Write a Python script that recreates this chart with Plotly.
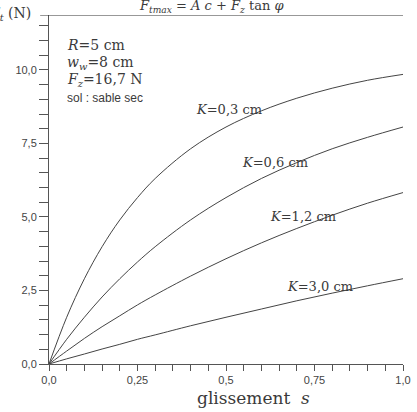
import plotly.graph_objects as go

# Data
slip = [0, 0.05, 0.1, 0.15, 0.2, 0.25, 0.3, 0.4, 0.5, 0.6, 0.7, 0.8, 0.9, 1.0]
f_k03 = [0, 1.59, 2.90, 3.99, 4.90, 5.66, 6.31, 7.32, 8.06, 8.61, 9.04, 9.38, 9.65, 9.85]
f_k06 = [0, 0.84, 1.59, 2.28, 2.90, 3.47, 3.99, 4.90, 5.66, 6.31, 6.85, 7.32, 7.71, 8.06]
f_k12 = [0, 0.44, 0.87, 1.27, 1.64, 2.01, 2.35, 2.99, 3.58, 4.12, 4.61, 5.06, 5.47, 5.83]
f_k30 = [0, 0.175, 0.34, 0.51, 0.67, 0.84, 0.99, 1.30, 1.59, 1.87, 2.15, 2.41, 2.66, 2.90]
f_tmax = 11.87

x_ticks = [0, 0.25, 0.5, 0.75, 1.0]
x_ticklabels = ["0,0", "0,25", "0,5", "0,75", "1,0"]
y_ticks = [0, 2.5, 5, 7.5, 10]
y_ticklabels = ["0,0", "2,5", "5,0", "7,5", "10,0"]

curves = [
    (f_k03, "<i>K</i>=0,3 cm", 0.508, 8.64),
    (f_k06, "<i>K</i>=0,6 cm", 0.638, 6.87),
    (f_k12, "<i>K</i>=1,2 cm", 0.717, 5.03),
    (f_k30, "<i>K</i>=3,0 cm", 0.765, 2.65),
]

SERIF = "DejaVu Serif"
SANS = "Liberation Sans"
LINE = "#444444"
TXT = "#3a3a3a"

fig = go.Figure()
for ys, label, lx, ly in curves:
    fig.add_trace(go.Scatter(x=slip, y=ys, mode="lines",
                             line=dict(color=LINE, width=1, shape="spline"),
                             showlegend=False, hoverinfo="skip"))
    fig.add_annotation(x=lx, y=ly, xref="x", yref="y", text=label, showarrow=False,
                       xanchor="center", yanchor="middle",
                       font=dict(family=SERIF, size=13, color=TXT))

# asymptote line
fig.add_shape(type="line", xref="paper", yref="y", x0=-0.025, x1=1.0, y0=f_tmax, y1=f_tmax,
              line=dict(color="#333333", width=1))

fig.add_annotation(xref="paper", yref="paper", x=0.46, y=1.0, yshift=9,
                   text="<i>F<sub>tmax</sub></i> = <i>A c</i> + <i>F<sub>z</sub></i> tan <i>φ</i>",
                   showarrow=False, xanchor="center", yanchor="middle",
                   font=dict(family=SERIF, size=13, color=TXT))
fig.add_annotation(xref="paper", yref="paper", x=-0.045, y=1.0, yshift=1,
                   text="<i>F<sub>t</sub></i> (N)", showarrow=False, xanchor="right", yanchor="middle",
                   font=dict(family=SERIF, size=14, color=TXT))

info = [("<i>R</i>=5 cm", 10.85, SERIF, 14),
        ("<i>w<sub>w</sub></i>=8 cm", 10.24, SERIF, 14),
        ("<i>F<sub>z</sub></i>=16,7 N", 9.66, SERIF, 14),
        ("sol : sable sec", 9.05, SANS, 12)]
for txt, yy, fam, sz in info:
    fig.add_annotation(x=0.044, y=yy, xref="x", yref="y", text=txt, showarrow=False,
                       xanchor="left", yanchor="middle", align="left",
                       font=dict(family=fam, size=sz, color=TXT))

fig.add_annotation(xref="paper", yref="paper", x=0.578, y=0, yshift=-34,
                   text="glissement  <i>s</i>", showarrow=False, xanchor="center", yanchor="middle",
                   font=dict(family=SERIF, size=17, color=TXT))

fig.update_layout(
    width=417, height=412,
    margin=dict(l=49, r=6, t=15, b=48),
    paper_bgcolor="white", plot_bgcolor="white",
    xaxis=dict(range=[0, 1.0], tickvals=x_ticks, ticktext=x_ticklabels,
               showgrid=False, zeroline=False, showline=True, linecolor="#555555", linewidth=1,
               ticks="outside", ticklen=6, tickcolor="#555555", ticklabeloverflow="allow",
               minor=dict(dtick=0.05, ticks="outside", ticklen=6, tickcolor="#555555", showgrid=False),
               tickfont=dict(family=SANS, size=11, color="#444444")),
    yaxis=dict(range=[0, f_tmax], tickvals=y_ticks, ticktext=y_ticklabels,
               showgrid=False, zeroline=False, showline=True, linecolor="#555555", linewidth=1,
               ticks="outside", ticklen=9, tickcolor="#555555",
               minor=dict(dtick=0.5, ticks="outside", ticklen=9, tickcolor="#555555", showgrid=False),
               tickfont=dict(family=SANS, size=11, color="#444444")),
)

fig.write_html("out.html")
